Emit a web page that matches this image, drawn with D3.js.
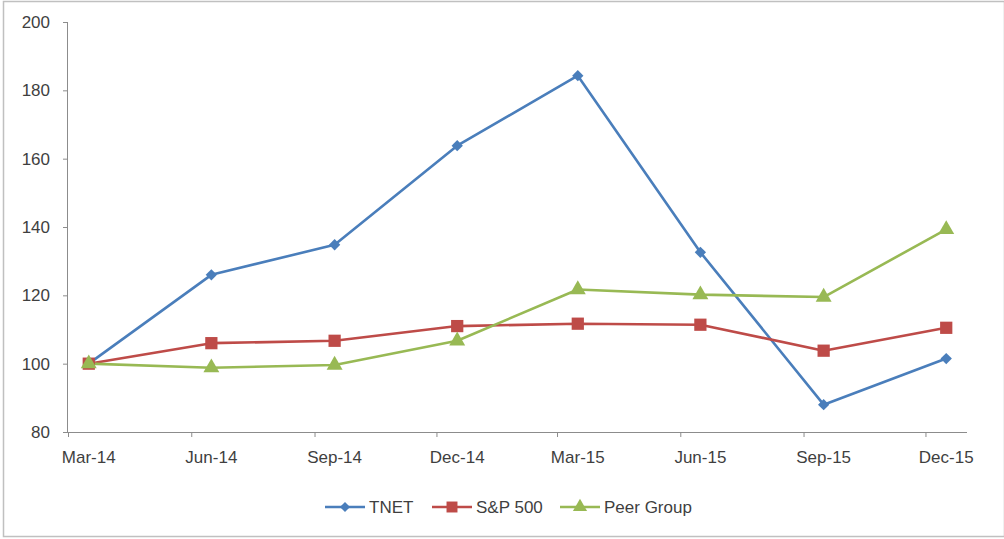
<!DOCTYPE html>
<html><head><meta charset="utf-8">
<script src="https://cdn.jsdelivr.net/npm/d3@7"></script>
<style>body{margin:0;background:#fff;} svg{display:block;} text{font-family:"Liberation Sans",Arial,sans-serif;}</style>
</head><body><svg id="c" width="1004" height="539"></svg>
<script>
const categories = ["Mar-14","Jun-14","Sep-14","Dec-14","Mar-15","Jun-15","Sep-15","Dec-15"];
const tnet = [100, 126, 134.8, 163.8, 184.3, 132.6, 88, 101.5];
const sp500 = [100, 106, 106.7, 111, 111.7, 111.4, 103.8, 110.5];
const peer = [100, 98.8, 99.6, 106.7, 121.7, 120.2, 119.5, 139.3];
const yTicks = [80, 100, 120, 140, 160, 180, 200];
const seriesNames = ["TNET", "S&P 500", "Peer Group"];
const colors = ["#4a7ebb", "#be4b48", "#98b954"];

const parse = d3.timeParse("%b-%y");
const dates = categories.map(parse);
const svg = d3.select("#c");
svg.append("rect").attr("x",3.5).attr("y",1.5).attr("width",1001).attr("height",535)
  .attr("fill","#fff").attr("stroke","#c0c0c0").attr("stroke-width",1.5);

const start = dates[0], end = d3.timeMonth.offset(dates[dates.length-1], 1);
const x = d3.scaleTime().domain([start, end]).range([68, 967]);
const y = d3.scaleLinear().domain([80, 200]).range([432, 22]);
const mid = d => (x(d) + x(d3.timeMonth.offset(d,1))) / 2;
const fs = "17px", txt = "#3f3f3f";

// y axis
const gy = svg.append("g").attr("transform","translate(68,0)")
  .call(d3.axisLeft(y).tickValues(yTicks).tickSize(5).tickPadding(13));
gy.select(".domain").attr("stroke","#8c8c8c").attr("d","M-0.5,"+y(200)+"V"+y(80));
gy.selectAll(".tick line").attr("stroke","#8c8c8c");
gy.selectAll("text").attr("fill",txt).style("font-size",fs);

// x axis
const gx = svg.append("g").attr("transform","translate(0,"+y(80)+")")
  .call(d3.axisBottom(x).tickValues(dates).tickSize(5).tickFormat(""));
gx.select(".domain").attr("stroke","#8c8c8c").attr("d","M68,0.5H967");
gx.selectAll(".tick line").attr("stroke","#8c8c8c");
svg.append("g").selectAll("text").data(dates).join("text")
  .attr("x", d => mid(d)).attr("y", y(80)+31).attr("text-anchor","middle")
  .attr("fill",txt).style("font-size",fs).text((d,i)=>categories[i]);

const all = [tnet, sp500, peer];
const line = d3.line().x((v,i)=>mid(dates[i])).y(v=>y(v));
all.forEach((vals, s) => {
  svg.append("path").datum(vals).attr("d", line).attr("fill","none")
    .attr("stroke", colors[s]).attr("stroke-width", 2.6).attr("stroke-linejoin","round");
});
const symbols = [d3.symbolSquare, d3.symbolSquare, d3.symbolTriangle];
const rot = [45, 0, 0];
const sizes = [64, 150, 110];
all.forEach((vals, s) => {
  svg.append("g").selectAll("path").data(vals).join("path")
    .attr("transform",(v,i)=>"translate("+mid(dates[i])+","+y(v)+") rotate("+rot[s]+")")
    .attr("d", d3.symbol().type(symbols[s]).size(sizes[s]))
    .attr("fill", colors[s]);
});

// legend
const legX = [325, 432, 560];
const lg = svg.append("g");
seriesNames.forEach((n, s) => {
  const g = lg.append("g").attr("transform","translate("+legX[s]+",507)");
  g.append("line").attr("x1",0).attr("x2",40).attr("stroke",colors[s]).attr("stroke-width",2.6);
  g.append("path").attr("transform","translate(20,0) rotate("+rot[s]+")")
    .attr("d", d3.symbol().type(symbols[s]).size(sizes[s]*0.8)).attr("fill",colors[s]);
  g.append("text").attr("x",44).attr("y",6).attr("fill",txt).style("font-size",fs).text(n);
});
</script></body></html>
